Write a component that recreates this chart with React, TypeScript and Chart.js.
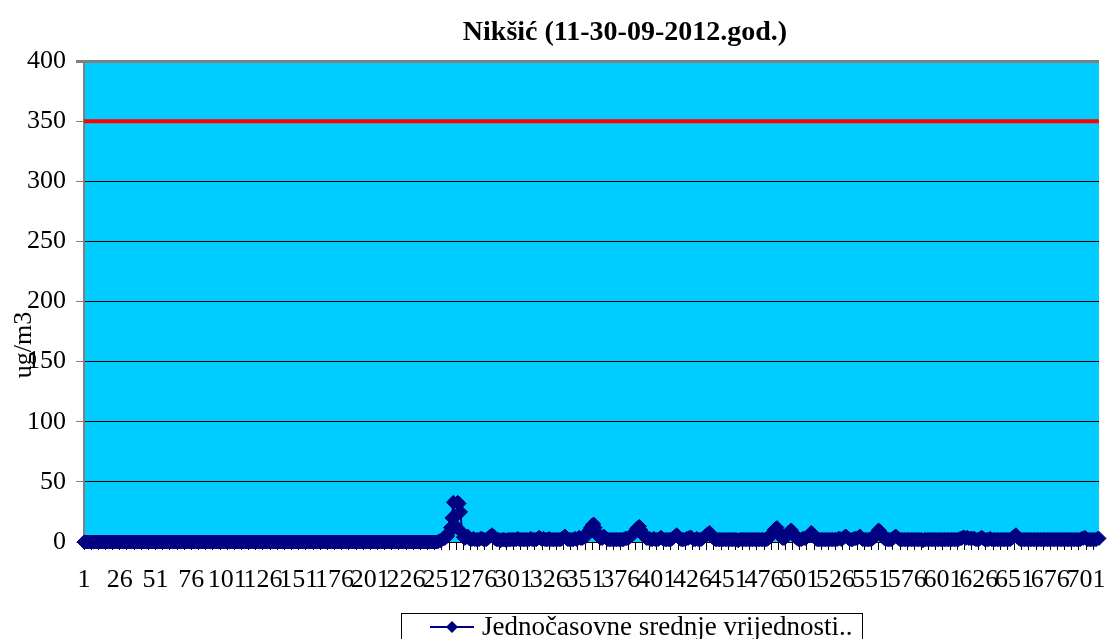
import { useEffect, useRef } from "react";
import { Chart, registerables } from "chart.js";

Chart.register(...registerables);

const chartTitle = "Nikšić (11-30-09-2012.god.)";
const yAxisTitle = "ug/m3";
const seriesLabel = "Jednočasovne srednje vrijednosti..";
const limitValue = 350;
const yMin = 0;
const yMax = 400;
const yStep = 50;
const xTickLabels = [
  "1", "26", "51", "76", "101", "126", "151", "176", "201", "226", "251", "276", "301", "326", "351",
  "376", "401", "426", "451", "476", "501", "526", "551", "576", "601", "626", "651", "676", "701",
];

// hourly values (ug/m3)
const values: number[] = [
  0,0,0,0,0,0,0,0,0,0,0,0,0,0,0,0,0,0,0,0,
  0,0,0,0,0,0,0,0,0,0,0,0,0,0,0,0,0,0,0,0,
  0,0,0,0,0,0,0,0,0,0,0,0,0,0,0,0,0,0,0,0,
  0,0,0,0,0,0,0,0,0,0,0,0,0,0,0,0,0,0,0,0,
  0,0,0,0,0,0,0,0,0,0,0,0,0,0,0,0,0,0,0,0,
  0,0,0,0,0,0,0,0,0,0,0,0,0,0,0,0,0,0,0,0,
  0,0,0,0,0,0,0,0,0,0,0,0,0,0,0,0,0,0,0,0,
  0,0,0,0,0,0,0,0,0,0,0,0,0,0,0,0,0,0,0,0,
  0,0,0,0,0,0,0,0,0,0,0,0,0,0,0,0,0,0,0,0,
  0,0,0,0,0,0,0,0,0,0,0,0,0,0,0,0,0,0,0,0,
  0,0,0,0,0,0,0,0,0,0,0,0,0,0,0,0,0,0,0,0,
  0,0,0,0,0,0,0,0,0,0,0,0,0,0,0,0,0,0,0,0,
  0,0,0,0,0,0,0,0,1,1,
  2,3,3,4,5,8,12,20,33,14,
  22,33,32,25,8,4,3,4,5,3,
  2,2,3,2,2,2,2,3,3,2,
  2,2,3,4,5,6,5,3,2,2,
  2,1,2,2,2,1,2,2,2,2,
  2,2,2,3,2,2,2,2,2,2,
  2,2,3,2,2,2,2,3,4,3,
  2,3,2,2,2,3,2,2,2,2,
  2,2,2,2,3,4,5,3,2,2,
  2,2,2,3,2,3,4,3,3,4,
  4,6,8,10,12,14,15,12,8,6,
  4,3,3,5,4,3,2,2,2,2,
  2,2,2,2,2,2,2,2,3,3,
  3,4,5,6,7,9,11,12,13,10,
  7,5,4,3,3,3,2,2,3,2,
  2,2,3,4,3,2,2,2,2,2,
  2,3,4,5,6,5,3,2,2,2,
  2,3,3,4,4,3,2,2,3,2,
  2,2,3,4,5,6,7,8,6,4,
  3,2,2,2,2,2,2,2,2,2,
  2,2,2,2,2,2,2,1,2,2,
  2,2,2,2,2,2,2,2,2,2,
  2,2,2,2,2,2,2,2,3,4,
  6,8,10,11,12,9,6,4,3,3,
  4,6,8,9,10,8,6,4,3,2,
  2,2,3,3,3,4,5,6,8,7,
  5,3,2,2,2,2,2,2,2,2,
  2,2,2,2,2,2,2,3,3,2,
  3,4,5,4,3,2,2,2,3,3,
  3,4,5,3,2,2,2,2,2,2,
  2,3,4,6,8,10,9,7,4,3,
  2,2,2,2,2,3,4,5,4,3,
  2,2,2,2,2,2,2,2,2,2,
  2,2,2,2,2,2,1,2,2,2,
  2,2,2,2,2,2,2,2,2,2,
  2,2,2,2,2,2,2,2,2,2,
  2,2,3,3,4,4,3,4,3,3,
  3,3,3,2,2,2,3,4,3,2,
  2,2,2,3,2,2,2,2,2,2,
  2,2,2,2,2,2,2,2,3,4,
  5,6,4,3,2,2,2,2,2,2,
  2,2,2,2,2,2,2,2,2,2,
  2,2,2,2,2,2,2,2,2,2,
  2,2,2,2,2,2,2,2,2,2,
  2,2,2,2,2,2,2,3,3,4,
  3,2,2,2,2,2,2,2,3,3,
];

const categories = values.map((_, i) => String(i + 1));

const SERIF = '"Liberation Serif", "Times New Roman", serif';
const NAVY = "#000080";

export default function App() {
  const ref = useRef<HTMLCanvasElement>(null);

  useEffect(() => {
    const canvas = ref.current;
    if (!canvas) return;

    const bgPlugin = {
      id: "plotBg",
      beforeDraw(chart: any) {
        const { ctx, chartArea: a } = chart;
        ctx.save();
        ctx.fillStyle = "#00CCFF";
        ctx.fillRect(a.left, a.top, a.right - a.left, a.bottom - a.top);
        ctx.restore();
      },
    };

    const limitPlugin = {
      id: "limitLine",
      beforeDatasetsDraw(chart: any) {
        const { ctx, chartArea: a } = chart;
        const y = chart.scales.y.getPixelForValue(limitValue);
        ctx.save();
        ctx.strokeStyle = "#FF0000";
        ctx.lineWidth = 4;
        ctx.beginPath();
        ctx.moveTo(a.left, y);
        ctx.lineTo(a.right, y);
        ctx.stroke();
        ctx.restore();
      },
    };

    const overlayPlugin = {
      id: "overlay",
      afterDraw(chart: any) {
        const { ctx, chartArea: a } = chart;
        const xs = chart.scales.x;
        ctx.save();
        // x tick labels
        ctx.fillStyle = "#000";
        ctx.font = `26px ${SERIF}`;
        ctx.textAlign = "center";
        ctx.textBaseline = "middle";
        xTickLabels.forEach((lbl) => {
          const idx = categories.indexOf(lbl);
          if (idx >= 0) ctx.fillText(lbl, xs.getPixelForValue(idx), a.bottom + 38);
        });
        // title
        ctx.font = `bold 28px ${SERIF}`;
        ctx.fillText(chartTitle, 625, 33);
        // y axis title
        ctx.save();
        ctx.translate(24, 345);
        ctx.rotate(-Math.PI / 2);
        ctx.font = `26px ${SERIF}`;
        ctx.fillText(yAxisTitle, 0, 0);
        ctx.restore();
        // legend
        const bx = 401, by = 613, bw = 461, bh = 40;
        ctx.strokeStyle = "#000";
        ctx.lineWidth = 1;
        ctx.strokeRect(bx + 0.5, by + 0.5, bw, bh);
        const ly = 627;
        ctx.strokeStyle = NAVY;
        ctx.lineWidth = 2;
        ctx.beginPath();
        ctx.moveTo(430, ly);
        ctx.lineTo(474, ly);
        ctx.stroke();
        ctx.fillStyle = NAVY;
        ctx.beginPath();
        ctx.moveTo(452, ly - 6);
        ctx.lineTo(458, ly);
        ctx.lineTo(452, ly + 6);
        ctx.lineTo(446, ly);
        ctx.closePath();
        ctx.fill();
        ctx.fillStyle = "#000";
        ctx.font = `27px ${SERIF}`;
        ctx.textAlign = "left";
        ctx.fillText(seriesLabel, 482, ly + 1);
        ctx.restore();
      },
    };

    const chart = new Chart(canvas, {
      type: "line",
      data: {
        labels: categories,
        datasets: [
          {
            label: seriesLabel,
            data: values,
            borderColor: NAVY,
            backgroundColor: NAVY,
            borderWidth: 2,
            pointStyle: "rectRot",
            pointRadius: 7,
            pointBorderWidth: 1,
            pointBorderColor: NAVY,
            pointBackgroundColor: NAVY,
            tension: 0,
            clip: false as any,
          },
        ],
      },
      options: {
        responsive: false,
        animation: false,
        events: [],
        layout: { padding: { top: 61, right: 2, bottom: 0, left: 0 } },
        plugins: {
          legend: { display: false },
          title: { display: false },
          tooltip: { enabled: false },
        },
        scales: {
          x: {
            type: "category",
            offset: false,
            grid: {
              display: true,
              drawOnChartArea: false,
              drawTicks: true,
              tickLength: 8,
              color: (c: any) => (c.index % 5 === 0 ? "#000" : "rgba(0,0,0,0)"),
              lineWidth: 1,
            },
            border: { display: true, color: "#000", width: 1 },
            ticks: { display: false, autoSkip: false },
            afterFit: (s: any) => {
              s.height = 97;
            },
          },
          y: {
            min: yMin,
            max: yMax,
            ticks: {
              stepSize: yStep,
              padding: 10,
              color: "#000",
              font: { family: SERIF, size: 26 },
            },
            grid: {
              color: (c: any) => (c.tick && c.tick.value === yMax ? "#808080" : "#000"),
              lineWidth: (c: any) => (c.tick && c.tick.value === yMax ? 3 : 1),
              tickLength: 8,
              drawTicks: true,
              tickColor: "#808080",
            },
            border: { display: true, color: "#808080", width: 2 },
            afterFit: (s: any) => {
              s.width = 84;
            },
          },
        },
      },
      plugins: [bgPlugin, limitPlugin, overlayPlugin],
    });

    return () => chart.destroy();
  }, []);

  return (
    <div style={{ position: "absolute", left: 0, top: 0, width: 1107, height: 639, background: "#fff" }}>
      <canvas ref={ref} width={1107} height={639} style={{ display: "block" }} />
    </div>
  );
}
